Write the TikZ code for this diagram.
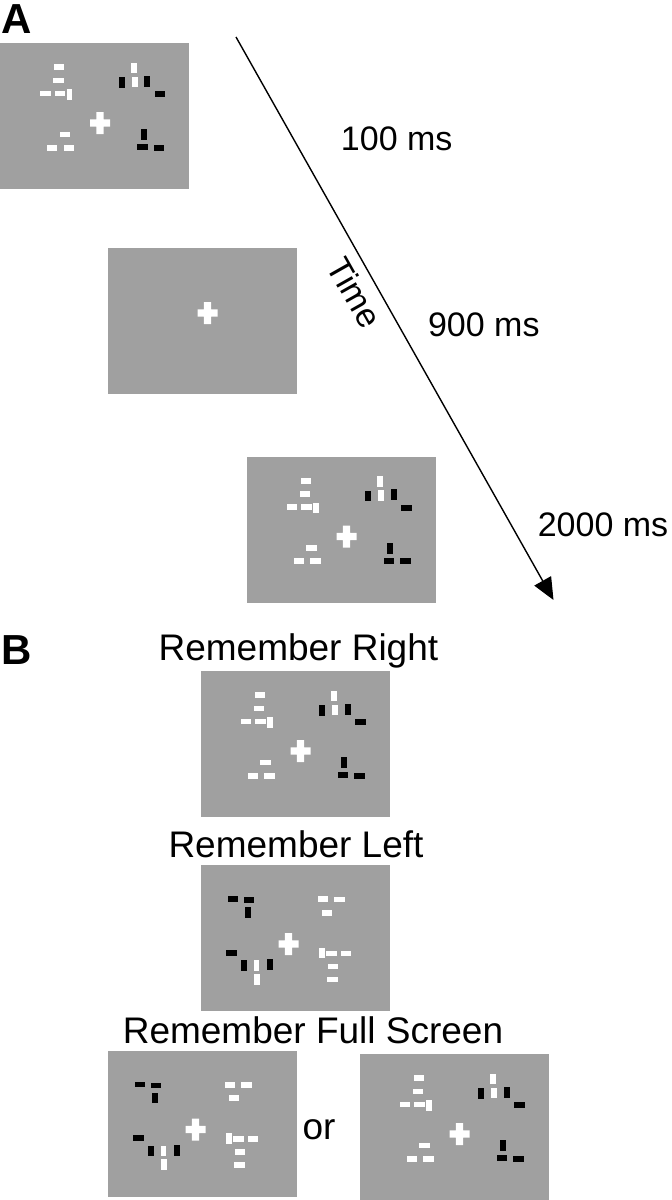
\documentclass[tikz,border=0pt]{standalone}
\usepackage{fontspec}
\setmainfont{Liberation Sans}
\usetikzlibrary{arrows.meta}
\definecolor{screengray}{RGB}{160,160,160}
\tikzset{
    screen/.style={fill=screengray, minimum width=189pt, minimum height=146pt, inner sep=0pt, anchor=north west},
    tlabel/.style={font=\fontsize{34}{40}\selectfont, anchor=base, inner sep=0pt},
    timelabel/.style={font=\fontsize{34}{40}\selectfont, sloped, below=9pt, inner sep=0pt},
    cond/.style={font=\fontsize{37}{44}\selectfont, anchor=base, inner sep=0pt},
    letter/.style={font=\fontsize{42}{50}\selectfont\bfseries, anchor=base west, inner sep=0pt},
    timeline/.style={line width=1.4pt, -{Triangle[length=22pt, width=19pt]}}
}
\newcommand{\hbr}[3]{\fill[#1] (#2-5.2,#3-2.9) rectangle ++(10.4,5.8);}
\newcommand{\vbr}[3]{\fill[#1] (#2-2.9,#3-5.3) rectangle ++(5.8,10.6);}
\newcommand{\fixcross}[2]{\fill[white] (#1-10,#2-3.6) rectangle ++(20,7.2) (#1-3.6,#2-11) rectangle ++(7.2,22);}
\newcommand{\stimright}{%
    \foreach \x/\y in {59.2/24.2, 58.5/37.5, 45.5/50.5, 59.8/50.5, 64.8/91.5, 52.2/104.8, 68.8/104.8} {\hbr{white}{\x}{\y}}
    \foreach \x/\y in {69.5/51.3, 133.8/25, 134.8/38.8} {\vbr{white}{\x}{\y}}
    \foreach \x/\y in {159.8/51.2, 142.5/104.2, 158.8/104.8} {\hbr{black}{\x}{\y}}
    \foreach \x/\y in {121.8/39.5, 147.2/38.2, 143.7/91.7} {\vbr{black}{\x}{\y}}
    \fixcross{100}{80}
}
\newcommand{\stimleft}{%
    \foreach \x/\y in {122.5/34.2, 138.8/34.5, 126.2/47.8, 130.8/88.5, 145.5/88.5, 132.5/101.5, 131.8/114.5} {\hbr{white}{\x}{\y}}
    \foreach \x/\y in {56/100.3, 56.8/114.2, 121.2/88} {\vbr{white}{\x}{\y}}
    \foreach \x/\y in {32.5/34, 48.5/35, 31/87.8} {\hbr{black}{\x}{\y}}
    \foreach \x/\y in {47.2/47.5, 43.2/100.3, 69.2/99.7} {\vbr{black}{\x}{\y}}
    \fixcross{88}{79}
}

\begin{document}
\begin{tikzpicture}[x=1pt, y=-1pt]
    \useasboundingbox (0,0) rectangle (672,1200);
    \node [letter] (labA) at (1,33) {A};
    \node [letter] (labB) at (1,664) {B};

    \node [screen] (p1) at (0,43) {};
    \node [screen] (p2) at (107.5,248) {};
    \node [screen] (p3) at (246.5,456.5) {};
    \begin{scope}[shift={(p1.north west)}] \stimright \end{scope}
    \begin{scope}[shift={(p2.north west)}] \fixcross{100}{65} \end{scope}
    \begin{scope}[shift={(p3.north west)}] \stimright \end{scope}

    \coordinate (tstart) at (236,37);
    \coordinate (tend) at (553.5,600);
    \draw [timeline] (tstart) -- (tend) node [timelabel, pos=0.435] (time) {Time};
    \node [tlabel] (t100) at (396.7,150.7) {100 ms};
    \node [tlabel] (t900) at (483.8,336) {900 ms};
    \node [tlabel] (t2000) at (603,536) {2000 ms};

    \node [cond] (cright) at (298.4,660) {Remember Right};
    \node [screen] (b1) at (200.5,671) {};
    \begin{scope}[shift={(b1.north west)}] \stimright \end{scope}

    \node [cond] (cleft) at (296,857) {Remember Left};
    \node [screen] (b2) at (200.5,865) {};
    \begin{scope}[shift={(b2.north west)}] \stimleft \end{scope}

    \node [cond] (cfull) at (313,1043) {Remember Full Screen};
    \node [screen] (b3) at (107.5,1050.5) {};
    \node [screen] (b4) at (359.5,1054) {};
    \node [cond] (cor) at (319,1139) {or};
    \begin{scope}[shift={(b3.north west)}] \stimleft \end{scope}
    \begin{scope}[shift={(b4.north west)}] \stimright \end{scope}
\end{tikzpicture}
\end{document}
